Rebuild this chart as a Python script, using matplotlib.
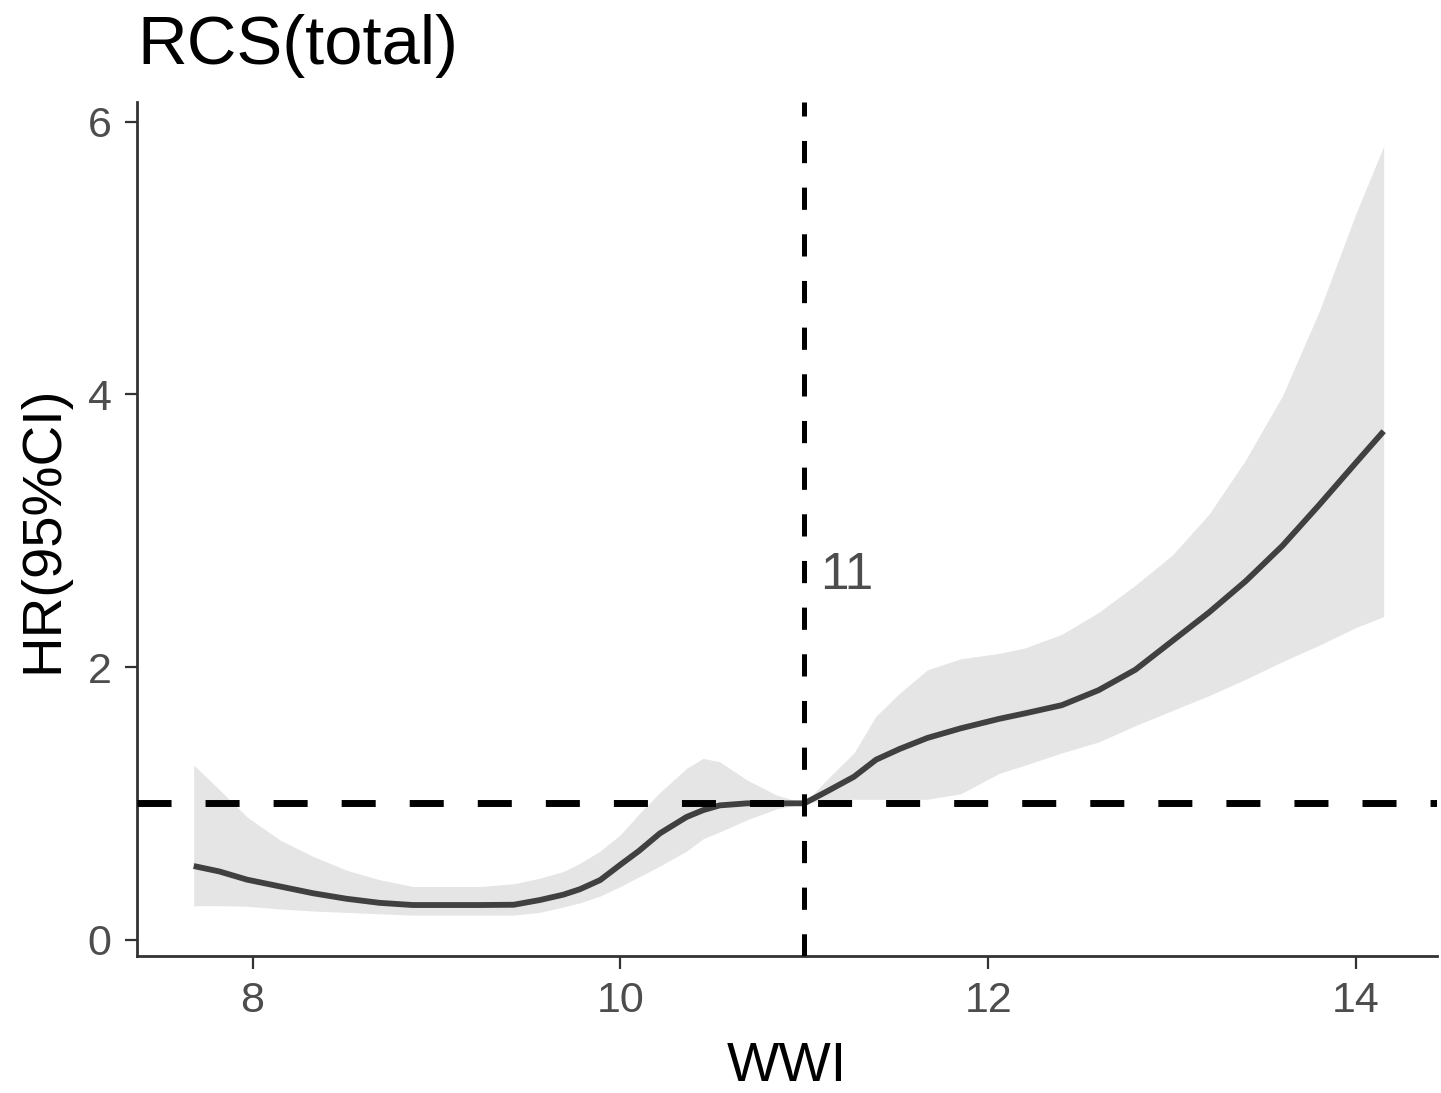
import matplotlib
matplotlib.use("Agg")
import matplotlib.pyplot as plt

plt.rcParams['font.family'] = ['Liberation Sans', 'DejaVu Sans']
plt.rcParams['lines.scale_dashes'] = False

# ---- data ----
wwi = [7.68, 7.82, 7.97, 8.15, 8.33, 8.51, 8.69, 8.87, 9.05, 9.24, 9.42, 9.56, 9.69,
       9.78, 9.89, 10.0, 10.1, 10.215, 10.36, 10.45, 10.54, 10.69, 10.85, 11.0,
       11.12, 11.27, 11.39, 11.52, 11.67, 11.85, 12.06, 12.2, 12.4, 12.6, 12.8,
       13.0, 13.2, 13.4, 13.6, 13.8, 14.0, 14.15]
hr = [0.54, 0.50, 0.44, 0.39, 0.34, 0.30, 0.27, 0.254, 0.254, 0.254, 0.256, 0.29, 0.33,
      0.37, 0.437, 0.55, 0.65, 0.78, 0.90, 0.95, 0.985, 1.0, 1.0, 1.0,
      1.085, 1.195, 1.32, 1.40, 1.48, 1.55, 1.62, 1.66, 1.72, 1.83, 1.98,
      2.19, 2.40, 2.63, 2.89, 3.19, 3.50, 3.73]
hr_upper = [1.28, 1.10, 0.90, 0.73, 0.61, 0.51, 0.44, 0.39, 0.39, 0.39, 0.41, 0.45, 0.50,
            0.56, 0.65, 0.77, 0.92, 1.08, 1.257, 1.33, 1.305, 1.17, 1.06, 1.0,
            1.17, 1.37, 1.64, 1.81, 1.98, 2.06, 2.10, 2.14, 2.24, 2.40, 2.60,
            2.82, 3.12, 3.52, 3.99, 4.61, 5.33, 5.82]
hr_lower = [0.249, 0.249, 0.245, 0.225, 0.21, 0.20, 0.19, 0.18, 0.18, 0.18, 0.18, 0.20, 0.24,
            0.27, 0.32, 0.39, 0.46, 0.54, 0.65, 0.74, 0.79, 0.88, 0.96, 1.0,
            1.02, 1.03, 1.03, 1.03, 1.03, 1.07, 1.22, 1.28, 1.37, 1.45, 1.57,
            1.68, 1.79, 1.91, 2.04, 2.16, 2.29, 2.37]
ref_hr = 1.0
cut_point = 11
x_ticks = [8, 10, 12, 14]
y_ticks = [0, 2, 4, 6]
title = "RCS(total)"
xlabel = "WWI"
ylabel = "HR(95%CI)"

W, H = 1441, 1093
fig = plt.figure(figsize=(W / 100, H / 100), dpi=100)
ax = fig.add_axes([136.7 / W, 1 - 956 / H, (1437 - 136.7) / W, (956 - 101.7) / H])

ax.fill_between(wwi, hr_lower, hr_upper, color='#e5e5e5', linewidth=0, zorder=1)
ax.plot(wwi, hr, color='#404040', linewidth=4.2, zorder=3,
        solid_capstyle='butt', solid_joinstyle='round')
ax.axhline(ref_hr, color='black', linewidth=5.0, linestyle=(0, (24.5, 24.5)), zorder=4)
ax.axvline(cut_point, color='black', linewidth=3.6, linestyle=(0, (16, 17.6)), zorder=4)
ax.text(cut_point + 0.085, 2.67, str(cut_point), color='#4d4d4d', fontsize=37,
        ha='left', va='center', zorder=5)

ax.set_xlim(7.37, 14.44)
ax.set_ylim(-0.12, 6.147)
ax.set_xticks(x_ticks)
ax.set_yticks(y_ticks)
ax.set_xticklabels([str(t) for t in x_ticks])
ax.set_yticklabels([str(t) for t in y_ticks])

for side in ['top', 'right']:
    ax.spines[side].set_visible(False)
for side in ['left', 'bottom']:
    ax.spines[side].set_color('#333333')
    ax.spines[side].set_linewidth(2.0)

ax.tick_params(axis='both', colors='#333333', width=1.6, length=9,
               labelsize=31, labelcolor='#4d4d4d', pad=9)

ax.set_xlabel(xlabel, fontsize=40, color='black')
ax.xaxis.set_label_coords(0.5, -0.1)
ax.set_ylabel(ylabel, fontsize=40.5, color='black')
ax.yaxis.set_label_coords(-0.052, 0.5)

fig.text(137 / W, 1 - 64 / H, title, fontsize=49.5, color='black',
         ha='left', va='baseline')

fig.savefig("out.png", dpi=100)
